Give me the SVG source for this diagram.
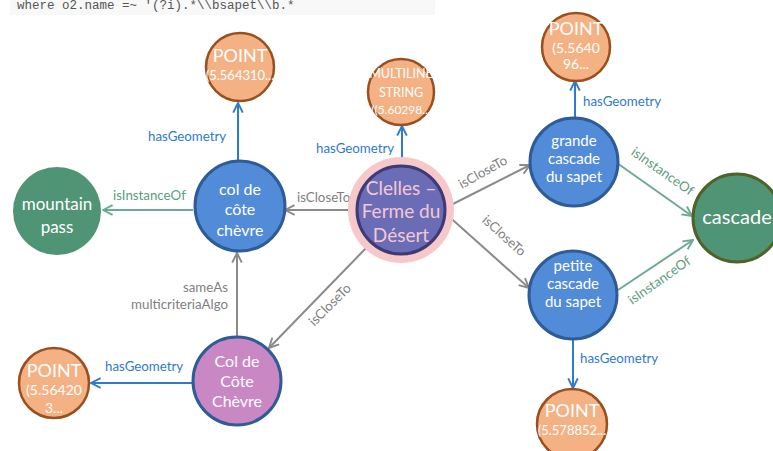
<svg xmlns="http://www.w3.org/2000/svg" width="773" height="451" viewBox="0 0 773 451">
<defs>
<style>
.nt{font-family:Lato,"Open Sans","Liberation Sans",sans-serif;text-anchor:middle;fill:#fff}
.el{font-family:Lato,"Open Sans","Liberation Sans",sans-serif;font-size:13.3px}
.geo{fill:#2E7BCC}
.cl{fill:#808080}
.io{fill:#5A9E80}
.pt{fill:#F4B183;stroke:#9A4F1E;stroke-width:2.5}
.bl{fill:#528BD8;stroke:#2D5C98;stroke-width:3}
.gr{fill:#4E9475}
.lg{stroke:#2E7BCC;stroke-width:2;fill:none}
.lc{stroke:#8A8A8A;stroke-width:2;fill:none}
.li{stroke:#6DAA92;stroke-width:2;fill:none}
</style>
<marker id="ag" viewBox="0 0 10 10" refX="9" refY="5" markerWidth="12" markerHeight="12" markerUnits="userSpaceOnUse" orient="auto"><path d="M1,1 L9,5 L1,9" fill="none" stroke="#2E7BCC" stroke-width="1.6"/></marker>
<marker id="ac" viewBox="0 0 10 10" refX="9" refY="5" markerWidth="12" markerHeight="12" markerUnits="userSpaceOnUse" orient="auto"><path d="M1,1 L9,5 L1,9" fill="none" stroke="#8A8A8A" stroke-width="1.6"/></marker>
<marker id="ai" viewBox="0 0 10 10" refX="9" refY="5" markerWidth="12" markerHeight="12" markerUnits="userSpaceOnUse" orient="auto"><path d="M1,1 L9,5 L1,9" fill="none" stroke="#6DAA92" stroke-width="1.6"/></marker>
</defs>
<rect width="773" height="451" fill="#fff"/>
<rect x="10" y="0" width="425" height="15" fill="#F8F8F8"/>
<text x="17" y="9" font-family="'Liberation Mono',monospace" font-size="12.5" fill="#555">where o2.name =~ '(?i).*\\bsapet\\b.*</text>

<g id="connectors">
<line class="lg" x1="238" y1="160" x2="238" y2="103" marker-end="url(#ag)"/>
<text class="el geo" x="148" y="141">hasGeometry</text>
<line class="lg" x1="402" y1="166" x2="402" y2="126" marker-end="url(#ag)"/>
<text class="el geo" x="316" y="153">hasGeometry</text>
<line class="lg" x1="575" y1="118" x2="575" y2="81" marker-end="url(#ag)"/>
<text class="el geo" x="583" y="106">hasGeometry</text>
<line class="lg" x1="573" y1="340" x2="573" y2="388" marker-end="url(#ag)"/>
<text class="el geo" x="580" y="363">hasGeometry</text>
<line class="lg" x1="193" y1="383" x2="91" y2="383" marker-end="url(#ag)"/>
<text class="el geo" x="105" y="371">hasGeometry</text>

<line class="li" x1="193" y1="210" x2="103" y2="210" marker-end="url(#ai)"/>
<text class="el io" x="113" y="200">isInstanceOf</text>
<line class="li" x1="617" y1="163" x2="692" y2="216" marker-end="url(#ai)"/>
<text class="el io" transform="translate(660,175) rotate(35)" text-anchor="middle">isInstanceOf</text>
<line class="li" x1="618" y1="290" x2="693" y2="240" marker-end="url(#ai)"/>
<text class="el io" transform="translate(662,284) rotate(-35)" text-anchor="middle">isInstanceOf</text>

<line class="lc" x1="357" y1="210" x2="285" y2="210" marker-end="url(#ac)"/>
<text class="el cl" x="297" y="202">isCloseTo</text>
<line class="lc" x1="445" y1="208" x2="530" y2="165" marker-end="url(#ac)"/>
<text class="el cl" transform="translate(485,176) rotate(-29)" text-anchor="middle">isCloseTo</text>
<line class="lc" x1="445" y1="213" x2="529" y2="288" marker-end="url(#ac)"/>
<text class="el cl" transform="translate(501,239) rotate(42)" text-anchor="middle">isCloseTo</text>
<line class="lc" x1="369" y1="245" x2="269" y2="348" marker-end="url(#ac)"/>
<text class="el cl" transform="translate(333,308) rotate(-45)" text-anchor="middle">isCloseTo</text>
<line class="lc" x1="237" y1="337" x2="237" y2="253" marker-end="url(#ac)"/>
<text class="el cl" x="228" y="292" text-anchor="end">sameAs</text>
<text class="el cl" x="228" y="309" text-anchor="end">multicriteriaAlgo</text>
</g>

<g id="point-top-left">
<circle class="pt" cx="240" cy="67" r="34"/>
<text class="nt" x="240" y="62" font-size="18">POINT</text>
<text class="nt" x="240" y="80" font-size="13">(5.564310...</text>
</g>
<g id="multilinestring">
<circle class="pt" cx="401" cy="92" r="33"/>
<text class="nt" x="401" y="78" font-size="12.5">MULTILINE</text>
<text class="nt" x="401" y="97" font-size="12.5">STRING</text>
<text class="nt" x="401" y="114" font-size="12">((5.60298...</text>
</g>
<g id="point-top-right">
<circle class="pt" cx="576" cy="47" r="34"/>
<text class="nt" x="576" y="35" font-size="18">POINT</text>
<text class="nt" x="576" y="53" font-size="14">(5.5640</text>
<text class="nt" x="576" y="69" font-size="14">96...</text>
</g>
<g id="point-bottom-left">
<circle class="pt" cx="54" cy="383" r="35"/>
<text class="nt" x="54" y="377" font-size="18">POINT</text>
<text class="nt" x="54" y="395" font-size="14">(5.56420</text>
<text class="nt" x="54" y="413" font-size="14">3...</text>
</g>
<g id="point-bottom-right">
<circle class="pt" cx="572" cy="424" r="35"/>
<text class="nt" x="572" y="417" font-size="18">POINT</text>
<text class="nt" x="572" y="435" font-size="13">(5.578852...</text>
</g>

<g id="clelles">
<circle cx="401" cy="210" r="53" fill="#F7C8CA"/>
<circle cx="401" cy="210" r="44" fill="#6A6DB6" stroke="#3E3A76" stroke-width="3"/>
<text class="nt" x="401" y="195" font-size="19" style="fill:#F5C7D3">Clelles –</text>
<text class="nt" x="401" y="218" font-size="19" style="fill:#F5C7D3">Ferme du</text>
<text class="nt" x="401" y="242" font-size="19" style="fill:#F5C7D3">Désert</text>
</g>
<g id="col-cote-chevre">
<circle class="bl" cx="240" cy="206" r="45"/>
<text class="nt" x="240" y="195" font-size="16">col de</text>
<text class="nt" x="240" y="215" font-size="16">côte</text>
<text class="nt" x="240" y="236" font-size="16">chèvre</text>
</g>
<g id="mountain-pass">
<circle class="gr" cx="57" cy="211" r="44"/>
<text class="nt" x="57" y="210" font-size="17">mountain</text>
<text class="nt" x="57" y="233" font-size="17">pass</text>
</g>
<g id="Col-Cote-Chevre">
<circle cx="237" cy="381" r="44" fill="#C987C4" stroke="#2D5C98" stroke-width="3"/>
<text class="nt" x="237" y="367" font-size="16">Col de</text>
<text class="nt" x="237" y="387" font-size="16">Côte</text>
<text class="nt" x="237" y="407" font-size="16">Chèvre</text>
</g>
<g id="grande-cascade">
<circle class="bl" cx="574" cy="162" r="44"/>
<text class="nt" x="574" y="146" font-size="15">grande</text>
<text class="nt" x="574" y="164" font-size="15">cascade</text>
<text class="nt" x="574" y="182" font-size="15">du sapet</text>
</g>
<g id="petite-cascade">
<circle class="bl" cx="573" cy="295" r="44"/>
<text class="nt" x="573" y="271" font-size="15">petite</text>
<text class="nt" x="573" y="289" font-size="15">cascade</text>
<text class="nt" x="573" y="307" font-size="15">du sapet</text>
</g>
<g id="cascade">
<circle cx="737" cy="218" r="44" fill="#4E9475" stroke="#4F6228" stroke-width="3"/>
<text class="nt" x="737" y="224" font-size="20">cascade</text>
</g>
</svg>
